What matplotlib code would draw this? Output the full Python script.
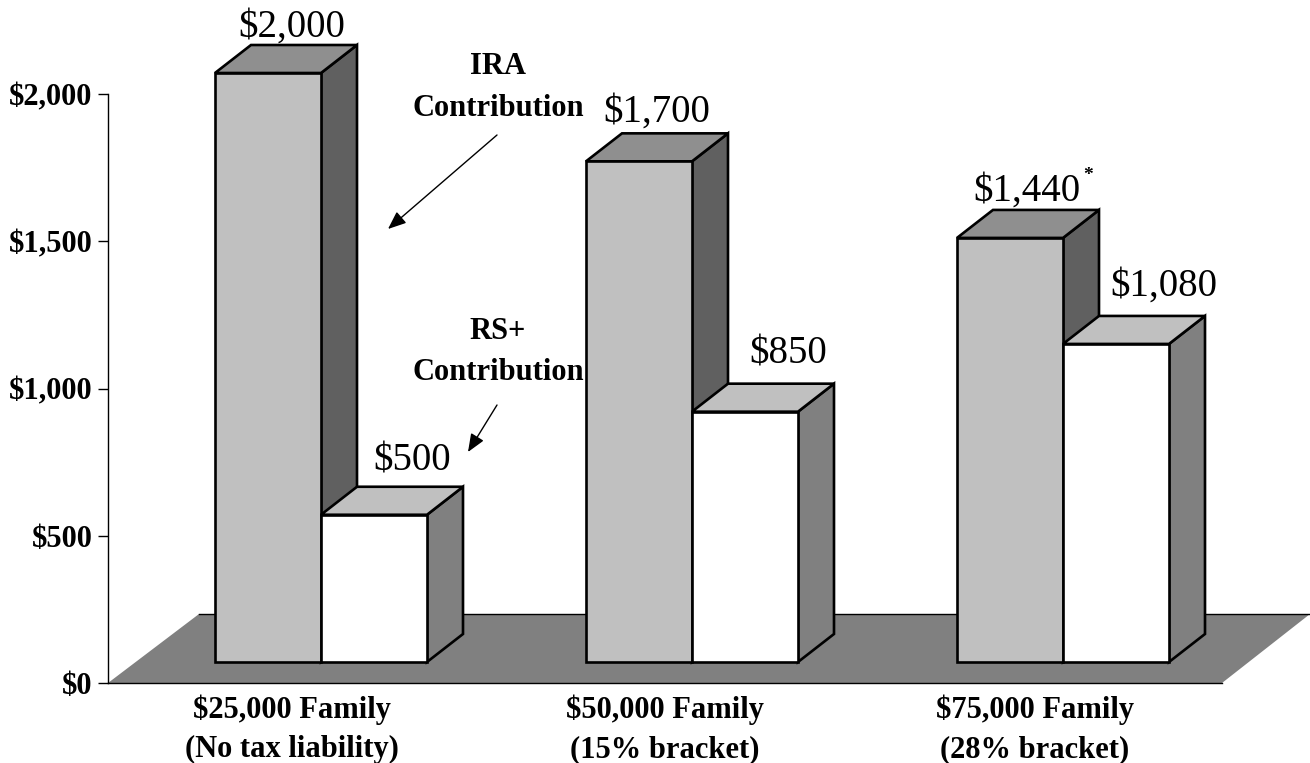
import matplotlib
matplotlib.use('Agg')
import matplotlib.pyplot as plt
from matplotlib.patches import Polygon

# values
families = ['$25,000 Family\n(No tax liability)', '$50,000 Family\n(15% bracket)',
            '$75,000 Family\n(28% bracket)']
ira = [2000, 1700, 1440]
rs_plus = [500, 850, 1080]
ira_labels = ['$2,000', '$1,700', '$1,440']
rs_labels = ['$500', '$850', '$1,080']
yticks = [0, 500, 1000, 1500, 2000]
ytick_labels = ['$0', '$500', '$1,000', '$1,500', '$2,000']

# layout, in figure pixels
W, H = 1310, 763
Y0 = 683            # pixel row of $0
PX = 589 / 2000     # pixels per dollar
FLOOR = (Y0 - 662) / PX   # bars stand a little way in on the floor
BAR_W = 106
DX, DY = 36, 28 / PX
left_edges = [215, 586, 957]
tick_x = [292, 665, 1035]
ira_off = [(24, 8), (18, 12), (17, 9)]
rs_off = [(38, 16), (43, 20), (48, 20)]

plt.rcParams['font.family'] = ['Liberation Serif', 'DejaVu Serif']


def py(y):
    """ pixel row in the picture to dollars """
    return (Y0 - y) / PX


def box(ax, x, val, front, top, side):
    y1 = FLOOR + val
    ax.add_patch(Polygon([(x + BAR_W, FLOOR), (x + BAR_W + DX, FLOOR + DY),
                          (x + BAR_W + DX, y1 + DY), (x + BAR_W, y1)],
                         fc=side, ec='k', lw=1.9, joinstyle='miter', zorder=3))
    ax.add_patch(Polygon([(x, y1), (x + DX, y1 + DY), (x + BAR_W + DX, y1 + DY),
                          (x + BAR_W, y1)],
                         fc=top, ec='k', lw=1.9, joinstyle='miter', zorder=3))
    ax.bar(x, val, BAR_W, bottom=FLOOR, align='edge', color=front,
           edgecolor='k', linewidth=1.9, zorder=3)


fig = plt.figure(figsize=(W / 100, H / 100), dpi=100)
ax = fig.add_axes([0, 0, 1, 1])
ax.set_xlim(0, W)
ax.set_ylim(py(H), py(0))
ax.patch.set_alpha(0)

# floor
floor = [(108, py(683)), (199, py(614)), (1310, py(614)), (1222, py(683))]
ax.add_patch(Polygon(floor, fc='#808080', ec='none', zorder=1))
ax.plot([108, 1222], [py(683), py(683)], color='k', lw=1, zorder=2)
ax.plot([199, 1310], [py(614), py(614)], color='k', lw=1, zorder=2)

for i, x in enumerate(left_edges):
    box(ax, x, ira[i], '#C0C0C0', '#8F8F8F', '#606060')
    box(ax, x + BAR_W, rs_plus[i], 'white', '#C0C0C0', '#808080')

    x_mid = x + BAR_W / 2
    ax.annotate(ira_labels[i], (x_mid, FLOOR + ira[i] + DY),
                xytext=ira_off[i], textcoords='offset pixels',
                ha='center', va='baseline', fontsize=28)
    ax.annotate(rs_labels[i], (x_mid + BAR_W, FLOOR + rs_plus[i] + DY),
                xytext=rs_off[i], textcoords='offset pixels',
                ha='center', va='baseline', fontsize=28)

# footnote star on the last IRA label
ax.text(1088, py(175), '*', fontsize=14, fontweight='bold', ha='center', va='center')

# callouts
for y, s in [(63, 'IRA'), (105, 'Contribution'), (329, 'RS+'), (370, 'Contribution')]:
    ax.text(498, py(y + 3), s, fontsize=22, fontweight='bold', ha='center', va='center')
arrow = dict(arrowstyle='-|>,head_length=1.1,head_width=0.45', color='k', lw=1,
             shrinkA=0, shrinkB=0)
ax.annotate('', xy=(388, py(229)), xytext=(497, py(135)), arrowprops=arrow)
ax.annotate('', xy=(468, py(452)), xytext=(497, py(405)), arrowprops=arrow)

# axes - spine positions first, moving a spine resets its ticks
for s in ['top', 'right']:
    ax.spines[s].set_visible(False)
ax.spines['bottom'].set_position(('data', 0))
ax.spines['bottom'].set_visible(False)
ax.spines['left'].set_position(('data', 108))
ax.spines['left'].set_bounds(0, 2000)
ax.spines['left'].set_linewidth(1)
ax.set_yticks(yticks)
ax.set_yticklabels(ytick_labels, fontsize=22, fontweight='bold')
ax.tick_params(axis='y', length=7, width=1, pad=4)
ax.set_xticks(tick_x)
ax.set_xticklabels(families, fontsize=22, fontweight='bold', linespacing=1.47)
ax.tick_params(axis='x', length=0, pad=8)

plt.savefig('out.png', dpi=100)
